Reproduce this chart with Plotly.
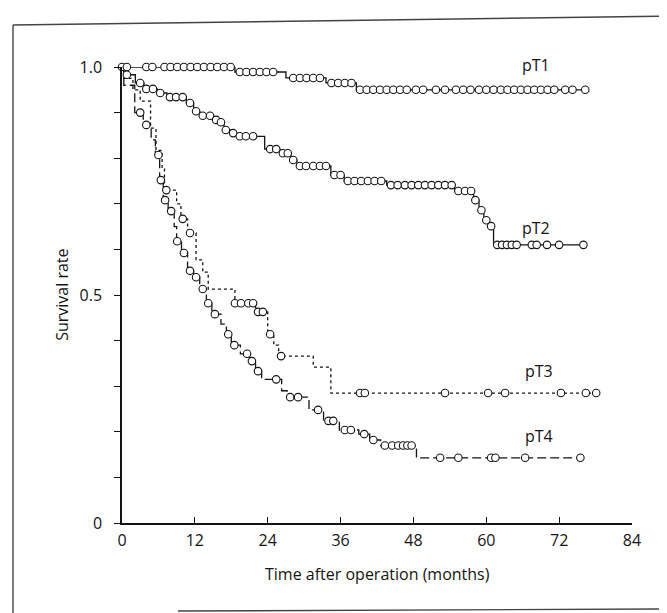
import numpy as np
import plotly.graph_objects as go

# ---------------- data ----------------
# Kaplan-Meier steps: time of drop (months) and survival after the drop
pt1_event_t = [18.6, 27.0, 33.6, 38.6]
pt1_event_s = [0.989, 0.976, 0.965, 0.950]
pt1_censor_t = [0, 0.8, 4, 5, 7, 8, 9.1, 10.2, 11.3, 12.4, 13.5, 14.6, 15.7, 16.8, 17.9,
                19.4, 20.5, 21.6, 22.7, 23.8, 24.9, 28.2, 29.3, 30.4, 31.5, 32.6,
                34.5, 35.6, 36.7, 37.8, 39.2, 40.3, 41.4, 42.5, 43.6, 44.7, 45.8, 46.9,
                48.4, 49.6, 51.7, 53.2, 55.0, 56.2, 57.4, 58.8, 60.0, 61.2, 62.4, 63.5,
                64.6, 65.7, 66.8, 67.9, 69.0, 70.1, 71.2, 73.0, 74.2, 76.3]

pt2_event_t = [0.5, 2.2, 3.6, 5.8, 7.4, 10.6, 11.8, 12.8, 15.0, 16.0, 16.8, 17.8, 18.9,
               23.5, 26.0, 27.8, 28.8, 34.4, 36.6, 43.6, 54.8, 57.9, 58.8, 59.6, 60.4, 61.2]
pt2_event_s = [0.983, 0.965, 0.952, 0.943, 0.934, 0.921, 0.903, 0.893, 0.884, 0.879, 0.862,
               0.855, 0.848, 0.820, 0.811, 0.796, 0.783, 0.763, 0.750, 0.741, 0.728, 0.708,
               0.686, 0.664, 0.651, 0.610]
pt2_censor_t = [0.8, 3.0, 4.0, 5.1, 6.3, 7.9, 8.9, 10.0, 11.2, 12.2, 13.3, 14.5, 15.5, 16.3,
                17.1, 18.3, 19.4, 20.4, 21.6, 24.4, 25.4, 26.5, 27.3, 28.2, 29.3, 30.3, 31.5,
                32.6, 33.6, 35.0, 36.0, 37.2, 38.3, 39.4, 40.5, 41.6, 42.7, 44.3, 45.4, 46.6,
                47.7, 48.8, 49.9, 51.0, 52.1, 53.2, 54.3, 55.4, 56.5, 57.5, 58.2, 59.2, 60.0,
                60.8, 61.8, 62.6, 63.4, 64.2, 65.0, 67.5, 68.3, 70.0, 72.0, 76.0]

pt3_event_t = [0.3, 1.8, 3.0, 4.7, 5.6, 6.6, 7.0, 9.0, 9.7, 10.8, 12.2, 13.3, 14.2, 18.6,
               22.0, 24.0, 25.0, 25.8, 31.5, 34.4]
pt3_event_s = [0.975, 0.950, 0.925, 0.866, 0.817, 0.780, 0.730, 0.700, 0.667, 0.636, 0.577,
               0.550, 0.513, 0.482, 0.463, 0.414, 0.390, 0.366, 0.342, 0.285]
pt3_censor_t = [7.3, 10.0, 11.2, 18.6, 19.6, 20.8, 21.6, 22.4, 23.2, 24.4, 26.2, 39.2, 40.0,
                53.2, 60.3, 63.1, 72.3, 76.4, 78.1]

pt4_event_t = [0.3, 2.1, 3.5, 4.8, 5.5, 6.2, 6.8, 7.6, 8.6, 9.0, 9.8, 10.8, 11.8, 12.8, 13.9,
               14.8, 16.3, 17.2, 18.0, 19.5, 21.0, 22.0, 23.0, 26.3, 27.2, 30.8, 33.2, 35.8,
               39.0, 40.8, 42.6, 48.5]
pt4_event_s = [0.960, 0.900, 0.873, 0.840, 0.807, 0.752, 0.708, 0.684, 0.650, 0.618, 0.592,
               0.553, 0.539, 0.513, 0.482, 0.458, 0.436, 0.414, 0.390, 0.371, 0.355, 0.333,
               0.315, 0.290, 0.276, 0.248, 0.224, 0.204, 0.195, 0.182, 0.170, 0.143]
pt4_censor_t = [3.0, 4.0, 6.0, 6.4, 7.1, 8.1, 9.1, 10.2, 11.2, 12.2, 13.3, 14.2, 15.3, 17.5,
                18.5, 20.6, 21.4, 22.4, 25.4, 27.7, 29.0, 32.3, 34.0, 34.8, 36.7, 37.7, 39.9,
                41.4, 43.3, 44.5, 45.5, 46.3, 47.0, 47.7, 52.4, 55.4, 60.8, 61.5, 66.4, 75.5]

curve_names = ["pT1", "pT2", "pT3", "pT4"]
label_x = [68.2, 68.2, 68.7, 68.7]
label_y = [1.005, 0.647, 0.333, 0.191]

x_ticks = [0, 12, 24, 36, 48, 60, 72, 84]
y_ticks = [0, 0.5, 1.0]
y_tick_text = ["0", "0.5", "1.0"]

# ---------------- build ----------------
INK = "#141414"
FONT = "Open Sans"


def step_xy(ev_t, ev_s, end_t):
    xs = [0.0] + list(ev_t) + [end_t]
    ys = [1.0] + list(ev_s) + [ev_s[-1]]
    return xs, ys


def surv_at(t, ev_t, ev_s):
    idx = np.searchsorted(np.array(ev_t), np.array(t), side="right")
    s = np.concatenate([[1.0], np.array(ev_s)])
    return s[idx]


curves = [
    (pt1_event_t, pt1_event_s, pt1_censor_t, "solid"),
    (pt2_event_t, pt2_event_s, pt2_censor_t, "solid"),
    (pt3_event_t, pt3_event_s, pt3_censor_t, "dot"),
    (pt4_event_t, pt4_event_s, pt4_censor_t, "9px,4px"),
]

fig = go.Figure()
for (et, es, ct, dash), name in zip(curves, curve_names):
    end_t = max(ct)
    xs, ys = step_xy(et, es, end_t)
    fig.add_trace(go.Scatter(x=xs, y=ys, mode="lines", line_shape="hv",
                             line=dict(color=INK, width=1.3, dash=dash),
                             cliponaxis=False, showlegend=False, hoverinfo="skip",
                             name=name))
for (et, es, ct, dash), name in zip(curves, curve_names):
    fig.add_trace(go.Scatter(x=ct, y=surv_at(ct, et, es), mode="markers",
                             marker=dict(symbol="circle", size=7.5, color="white",
                                         line=dict(color=INK, width=1.1)),
                             cliponaxis=False, showlegend=False, hoverinfo="skip",
                             name=name + " censored"))

# curve labels (y axis range [0,1] coincides with the paper range, so paper y == survival)
for name, lx, ly in zip(curve_names, label_x, label_y):
    fig.add_annotation(x=lx, xref="x", y=ly, yref="paper", text=name, showarrow=False,
                       xanchor="center", yanchor="middle",
                       font=dict(family=FONT, size=16, color=INK))

# axis titles
fig.add_annotation(xref="paper", yref="paper", x=0.5, y=-0.112, text="Time after operation (months)",
                   showarrow=False, xanchor="center", yanchor="middle",
                   font=dict(family=FONT, size=16, color=INK))
fig.add_annotation(xref="paper", yref="paper", x=-0.118, y=0.5, text="Survival rate", textangle=-90,
                   showarrow=False, xanchor="center", yanchor="middle",
                   font=dict(family=FONT, size=16, color=INK))

# frame (paper coordinates extend beyond the plot area)
PW, PH = 510.0, 456.0
def px_to_paper_x(px):
    return (px - 114) / PW
def px_to_paper_y(py):
    return (515 - py) / PH

frame = dict(color="#444", width=1.4)
fig.add_shape(type="line", xref="paper", yref="paper", x0=px_to_paper_x(5), x1=px_to_paper_x(664),
              y0=px_to_paper_y(17), y1=px_to_paper_y(8), line=frame)
fig.add_shape(type="line", xref="paper", yref="paper", x0=px_to_paper_x(5), x1=px_to_paper_x(5),
              y0=px_to_paper_y(17), y1=px_to_paper_y(613), line=frame)
fig.add_shape(type="line", xref="paper", yref="paper", x0=px_to_paper_x(170), x1=px_to_paper_x(664),
              y0=px_to_paper_y(603), y1=px_to_paper_y(601), line=frame)

fig.update_layout(
    width=667, height=613, autosize=False,
    margin=dict(l=114, r=43, t=59, b=98, pad=0),
    paper_bgcolor="white", plot_bgcolor="white",
    font=dict(family=FONT, size=16, color=INK),
    xaxis=dict(range=[0, 84], tickvals=x_ticks, ticks="inside", ticklen=6, tickwidth=1.3,
               tickcolor=INK, showline=True, linecolor=INK, linewidth=1.5, showgrid=False,
               zeroline=False, tickfont=dict(family=FONT, size=16, color=INK),
               ticklabelstandoff=2),
    yaxis=dict(range=[0, 1], tickvals=y_ticks, ticktext=y_tick_text, ticks="outside", ticklen=6,
               tickwidth=1.3, tickcolor=INK, showline=True, linecolor=INK, linewidth=1.5,
               showgrid=False, zeroline=False, tickfont=dict(family=FONT, size=16, color=INK),
               ticklabelstandoff=9,
               minor=dict(dtick=0.1, tick0=0, ticks="outside", ticklen=6, tickwidth=1.3,
                          tickcolor=INK, showgrid=False)),
)

fig.write_html("out.html", config={"displayModeBar": False})
